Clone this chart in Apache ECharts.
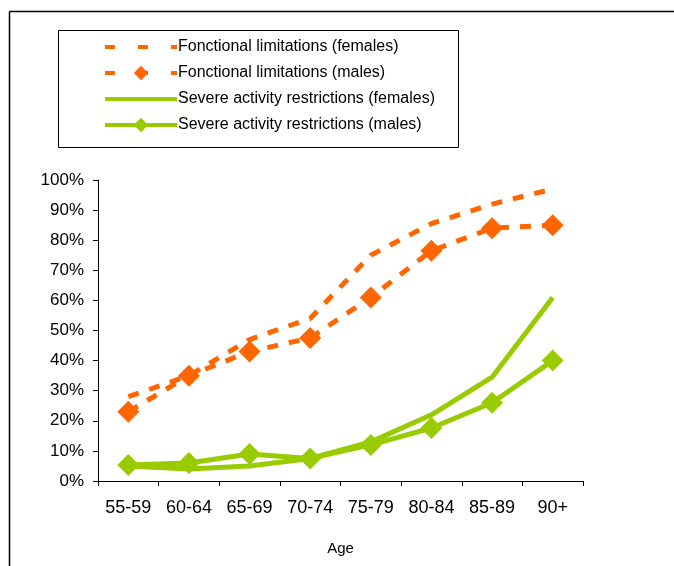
<!DOCTYPE html>
<html>
<head>
<meta charset="utf-8">
<script src="https://cdn.jsdelivr.net/npm/echarts@6/dist/echarts.min.js"></script>
<style>
  html, body { margin: 0; padding: 0; background: #fff; }
  #chart { width: 674px; height: 566px; }
</style>
</head>
<body>
<div id="chart"></div>
<script>
// categorias de edad
const ageGroups = ['55-59', '60-64', '65-69', '70-74', '75-79', '80-84', '85-89', '90+'];
const yTicks = [0, 10, 20, 30, 40, 50, 60, 70, 80, 90, 100];

// valores en %
const fonctFemales = [28, 35, 47, 54, 75, 85.5, 92, 97];
const fonctMales = [23, 35, 43, 47.5, 61, 76.5, 84, 85];
const severeFemales = [5, 4, 5, 7.5, 13, 22, 34.5, 61];
const severeMales = [5.3, 6, 9, 7.5, 12, 17.6, 26, 40];

const seriesNames = [
    'Fonctional limitations (females)',
    'Fonctional limitations (males)',
    'Severe activity restrictions (females)',
    'Severe activity restrictions (males)'
];

const orange = '#FF6600';
const green = '#99CC00';
const font = 'Liberation Sans, Arial, sans-serif';

const chart = echarts.init(document.getElementById('chart'), null, { renderer: 'canvas' });

// las series sin marcador no deben mostrar circulo en la leyenda
// y las naranjas llevan guiones mas espaciados
const legendData = seriesNames.map((name, i) => {
    const item = { name };
    if (i % 2 === 0) item.itemStyle = { opacity: 0 };
    if (i < 2) item.lineStyle = { type: [10, 23] };
    return item;
});

const option = {
    animation: false,
    backgroundColor: '#fff',
    graphic: [
        // marco exterior (solo arriba e izquierda visibles)
        { type: 'line', shape: { x1: 9.5, y1: 11.5, x2: 674, y2: 11.5 }, style: { stroke: '#000', lineWidth: 1.5 } },
        { type: 'line', shape: { x1: 9.5, y1: 11.5, x2: 9.5, y2: 566 }, style: { stroke: '#000', lineWidth: 1.5 } },
        // caja de la leyenda
        { type: 'rect', shape: { x: 58.5, y: 30.5, width: 400, height: 117 }, style: { fill: 'none', stroke: '#000', lineWidth: 1 } }
    ],
    legend: {
        orient: 'vertical',
        left: 98,
        top: 34,
        itemWidth: 72,
        itemHeight: 18,
        itemGap: 10,
        lineStyle: { width: 4 },
        textStyle: { fontFamily: font, fontSize: 16, color: '#000', padding: [0, 0, 0, -4] },
        data: legendData
    },
    grid: { left: 98, top: 180, width: 485, height: 301 },
    xAxis: {
        type: 'category',
        data: ageGroups,
        boundaryGap: true,
        name: 'Age',
        nameLocation: 'middle',
        nameGap: 60,
        nameTextStyle: { fontFamily: font, fontSize: 15, color: '#000' },
        axisLine: { lineStyle: { color: '#000', width: 1 } },
        axisTick: { show: true, length: 5, lineStyle: { color: '#000' } },
        axisLabel: { fontFamily: font, fontSize: 18, color: '#000', margin: 18, interval: 0 }
    },
    yAxis: {
        type: 'value',
        min: yTicks[0],
        max: yTicks[yTicks.length - 1],
        interval: 10,
        axisLine: { show: true, lineStyle: { color: '#000', width: 1 } },
        axisTick: { show: true, length: 5, lineStyle: { color: '#000' } },
        splitLine: { show: false },
        axisLabel: { fontFamily: font, fontSize: 17, color: '#000', margin: 14, formatter: '{value}%' }
    },
    series: [
        {
            name: seriesNames[0],
            type: 'line',
            data: fonctFemales,
            symbol: 'none',
            itemStyle: { color: orange },
            lineStyle: { color: orange, width: 5, type: [11, 11] }
        },
        {
            name: seriesNames[1],
            type: 'line',
            data: fonctMales,
            symbol: 'diamond',
            symbolSize: 22,
            itemStyle: { color: orange },
            lineStyle: { color: orange, width: 5, type: [11, 11] }
        },
        {
            name: seriesNames[2],
            type: 'line',
            data: severeFemales,
            symbol: 'none',
            itemStyle: { color: green },
            lineStyle: { color: green, width: 5 }
        },
        {
            name: seriesNames[3],
            type: 'line',
            data: severeMales,
            symbol: 'diamond',
            symbolSize: 22,
            itemStyle: { color: green },
            lineStyle: { color: green, width: 5 }
        }
    ]
};

chart.setOption(option);
</script>
</body>
</html>
